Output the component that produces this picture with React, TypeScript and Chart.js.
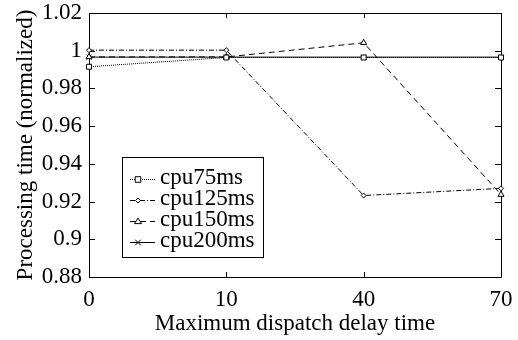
import React, { useEffect, useRef } from "react";
import { Chart, registerables } from "chart.js";

Chart.register(...registerables);

const xLabels = ["0", "10", "40", "70"];
const cpu75 = [0.9915, 0.9964, 0.9964, 0.9964];
const cpu125 = [1.0003, 1.0003, 0.9232, 0.927];
const cpu150 = [0.9967, 0.9967, 1.0042, 0.9237];
const cpu200 = [0.9966, 0.9966, 0.9966, 0.9966];
const seriesNames = ["cpu75ms", "cpu125ms", "cpu150ms", "cpu200ms"];
const yTickValues = [0.88, 0.9, 0.92, 0.94, 0.96, 0.98, 1.0, 1.02];
const yTickLabels = ["0.88", "0.9", "0.92", "0.94", "0.96", "0.98", "1", "1.02"];
const xTitle = "Maximum dispatch delay time";
const yTitle = "Processing time (normalized)";

const FONT = "'Liberation Serif', 'Times New Roman', serif";

const framePlugin = {
  id: "frameTicks",
  beforeDatasetsDraw(chart: any) {
    const { ctx, chartArea } = chart;
    const { left, right, top, bottom } = chartArea;
    ctx.save();
    ctx.strokeStyle = "#000";
    ctx.lineWidth = 1;
    ctx.setLineDash([]);
    ctx.beginPath();
    ctx.rect(Math.round(left) + 0.5, Math.round(top) + 0.5, Math.round(right - left), Math.round(bottom - top));
    ctx.stroke();
    const xs = chart.scales.x;
    const ys = chart.scales.y;
    ctx.beginPath();
    for (let i = 0; i < xs.ticks.length; i++) {
      const px = Math.round(xs.getPixelForTick(i)) + 0.5;
      ctx.moveTo(px, bottom);
      ctx.lineTo(px, bottom - 5);
      ctx.moveTo(px, top);
      ctx.lineTo(px, top + 5);
    }
    for (let i = 0; i < ys.ticks.length; i++) {
      const py = Math.round(ys.getPixelForTick(i)) + 0.5;
      ctx.moveTo(left, py);
      ctx.lineTo(left + 6, py);
      ctx.moveTo(right, py);
      ctx.lineTo(right - 6, py);
    }
    ctx.stroke();
    ctx.restore();
  },
};

function drawMarker(ctx: any, style: string, x: number, y: number, r: number) {
  ctx.save();
  ctx.setLineDash([]);
  ctx.lineWidth = 1;
  ctx.strokeStyle = "#000";
  ctx.fillStyle = "#fff";
  ctx.beginPath();
  if (style === "rect") {
    ctx.rect(x - r * 0.8, y - r * 0.8, r * 1.6, r * 1.6);
    ctx.fill();
    ctx.stroke();
  } else if (style === "rectRot") {
    ctx.moveTo(x, y - r);
    ctx.lineTo(x + r, y);
    ctx.lineTo(x, y + r);
    ctx.lineTo(x - r, y);
    ctx.closePath();
    ctx.fill();
    ctx.stroke();
  } else if (style === "triangle") {
    ctx.moveTo(x, y - r);
    ctx.lineTo(x + r, y + r * 0.6);
    ctx.lineTo(x - r, y + r * 0.6);
    ctx.closePath();
    ctx.fill();
    ctx.stroke();
  } else {
    ctx.moveTo(x - r * 0.8, y - r * 0.8);
    ctx.lineTo(x + r * 0.8, y + r * 0.8);
    ctx.moveTo(x + r * 0.8, y - r * 0.8);
    ctx.lineTo(x - r * 0.8, y + r * 0.8);
    ctx.stroke();
  }
  ctx.restore();
}

const legendPlugin = {
  id: "boxLegend",
  afterDraw(chart: any) {
    const { ctx } = chart;
    const bx = 122, by = 157, bw = 141, bh = 100;
    ctx.save();
    ctx.fillStyle = "#fff";
    ctx.fillRect(bx, by, bw, bh);
    ctx.strokeStyle = "#000";
    ctx.lineWidth = 1;
    ctx.setLineDash([]);
    ctx.strokeRect(bx + 0.5, by + 0.5, bw, bh);
    chart.data.datasets.forEach((ds: any, i: number) => {
      const ry = 179 + i * 21;
      ctx.save();
      ctx.strokeStyle = "#000";
      ctx.lineWidth = 1;
      ctx.setLineDash(ds.borderDash || []);
      ctx.beginPath();
      ctx.moveTo(130, ry + 0.5);
      ctx.lineTo(155, ry + 0.5);
      ctx.stroke();
      ctx.restore();
      drawMarker(ctx, ds.pointStyle, 138, ry + 0.5, ds.pointRadius);
      ctx.fillStyle = "#000";
      ctx.font = `23px ${FONT}`;
      ctx.textBaseline = "middle";
      ctx.textAlign = "left";
      ctx.fillText(ds.label, 160, ry - 1);
    });
    ctx.restore();
  },
};

export default function App() {
  const ref = useRef<HTMLCanvasElement | null>(null);
  useEffect(() => {
    if (!ref.current) return;
    const mk = (label: string, data: number[], dash: number[], ps: string, r: number) => ({
      label,
      data,
      borderColor: "#000",
      backgroundColor: "#fff",
      borderWidth: 1,
      borderDash: dash,
      pointStyle: ps,
      pointRadius: r,
      pointBorderColor: "#000",
      pointBackgroundColor: "#fff",
      pointBorderWidth: 1,
      tension: 0,
    });
    const chart = new Chart(ref.current, {
      type: "line",
      data: {
        labels: xLabels,
        datasets: [
          mk(seriesNames[0], cpu75, [1, 1], "rect", 3.5),
          mk(seriesNames[1], cpu125, [5, 2, 1, 2], "rectRot", 2.5),
          mk(seriesNames[2], cpu150, [6, 4], "triangle", 3.5),
          mk(seriesNames[3], cpu200, [], "crossRot", 3.5),
        ],
      },
      options: {
        animation: false,
        responsive: true,
        maintainAspectRatio: false,
        layout: { padding: { top: 13, right: 17, left: 0, bottom: 0 } },
        plugins: { legend: { display: false }, tooltip: { enabled: false } },
        scales: {
          x: {
            type: "category",
            offset: false,
            grid: { display: false, drawTicks: false },
            border: { display: false },
            ticks: { color: "#000", font: { family: FONT, size: 23 }, padding: 9, maxRotation: 0 },
            title: { display: true, text: xTitle, color: "#000", font: { family: FONT, size: 23 }, padding: { top: 0, bottom: 2 } },
            afterFit: (s: any) => { s.height = 63; s.paddingLeft = 0; s.paddingRight = 0; },
          },
          y: {
            type: "linear",
            min: 0.88,
            max: 1.02,
            grid: { display: false, drawTicks: false },
            border: { display: false },
            afterBuildTicks: (s: any) => { s.ticks = yTickValues.map((v) => ({ value: v })); },
            ticks: {
              color: "#000",
              font: { family: FONT, size: 23 },
              padding: 7,
              callback: (v: any) => {
                const idx = yTickValues.findIndex((t) => Math.abs(t - Number(v)) < 1e-6);
                return idx >= 0 ? yTickLabels[idx] : "";
              },
            },
            title: { display: true, text: yTitle, color: "#000", font: { family: FONT, size: 23 }, padding: { top: 12, bottom: 0 } },
            afterFit: (s: any) => { s.width = 89; s.paddingTop = 0; s.paddingBottom = 0; },
          },
        },
      },
      plugins: [framePlugin, legendPlugin],
    } as any);
    return () => chart.destroy();
  }, []);
  return (
    <div style={{ position: "absolute", left: 0, top: 0, width: 518, height: 340, background: "#fff" }}>
      <canvas ref={ref} width={518} height={340} />
    </div>
  );
}
